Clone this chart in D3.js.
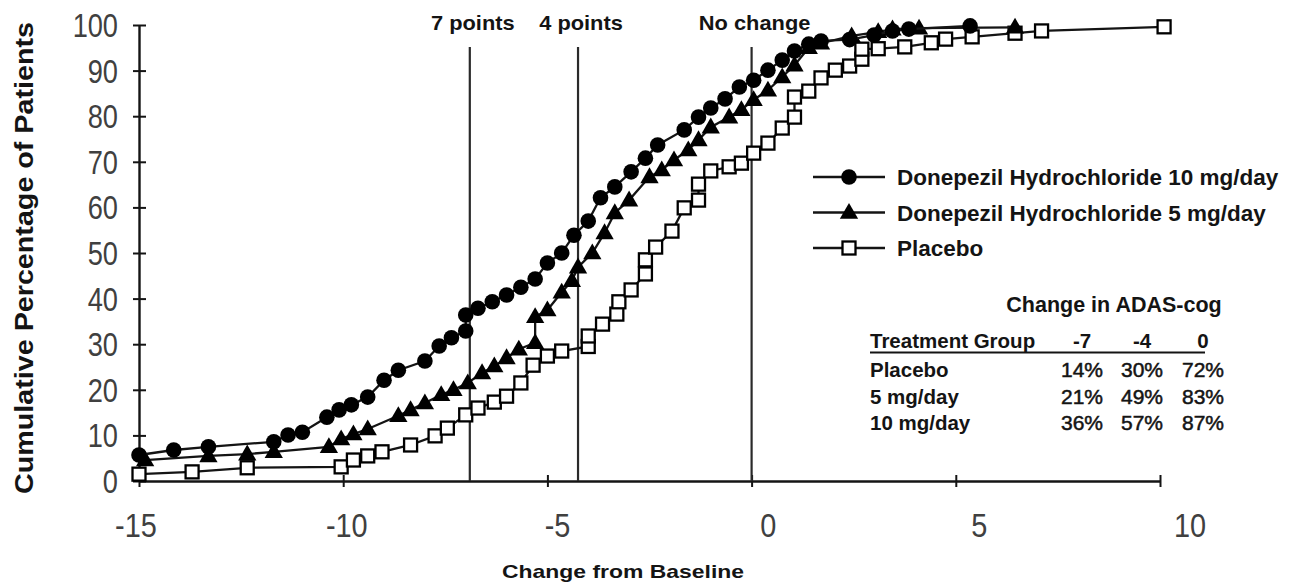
<!DOCTYPE html>
<html>
<head>
<meta charset="utf-8">
<script src="https://cdn.jsdelivr.net/npm/d3@7"></script>
<style>
body { margin: 0; background: #fff; }
svg text { font-family: "Liberation Sans", Arial, Helvetica, sans-serif; }
</style>
</head>
<body>
<svg id="chart" width="1303" height="588"></svg>
<script>
// cumulative % of patients by change from baseline
var dose10 = [
    [-15, 5.7], [-14.15, 6.8], [-13.3, 7.5], [-11.7, 8.6], [-11.35, 10.1], [-11.0, 10.7],
    [-10.4, 14.0], [-10.1, 15.6], [-9.8, 16.7], [-9.4, 18.4], [-9.0, 22.1], [-8.65, 24.3],
    [-8.0, 26.3], [-7.65, 29.6], [-7.35, 31.4], [-7.0, 32.9], [-7.0, 36.4], [-6.7, 37.9],
    [-6.35, 39.3], [-6.0, 40.8], [-5.65, 42.5], [-5.3, 44.3], [-5.0, 47.8], [-4.65, 50.0],
    [-4.35, 53.9], [-4.0, 57.0], [-3.7, 62.1], [-3.35, 64.5], [-2.95, 67.8], [-2.6, 70.8],
    [-2.3, 73.7], [-1.65, 77.0], [-1.3, 79.8], [-1.0, 81.8], [-0.65, 83.8], [-0.3, 86.4],
    [0.05, 87.9], [0.4, 90.1], [0.75, 92.3], [1.05, 94.3], [1.4, 95.8], [1.7, 96.5],
    [2.4, 96.8], [3.0, 97.8], [3.45, 98.7], [3.85, 99.1], [5.35, 99.8]
];
var dose5 = [
    [-14.85, 4.6], [-13.3, 5.5], [-12.35, 5.9], [-11.7, 6.4], [-10.35, 7.5], [-10.05, 9.2],
    [-9.75, 10.3], [-9.4, 11.4], [-8.65, 14.3], [-8.35, 15.6], [-8.0, 17.1], [-7.6, 18.9],
    [-7.3, 20.0], [-6.95, 21.5], [-6.6, 23.7], [-6.3, 25.2], [-6.0, 27.0], [-5.7, 28.9],
    [-5.3, 30.3], [-5.3, 36.0], [-5.0, 37.5], [-4.65, 41.4], [-4.4, 43.9], [-4.25, 46.9],
    [-3.9, 50.0], [-3.6, 54.4], [-3.35, 58.8], [-3.0, 61.6], [-2.5, 66.7], [-2.2, 68.2],
    [-1.9, 70.4], [-1.55, 72.6], [-1.3, 74.8], [-1.0, 77.6], [-0.55, 79.8], [-0.25, 81.4],
    [0.05, 83.6], [0.4, 85.7], [0.75, 88.6], [1.05, 91.2], [1.4, 95.0], [1.7, 96.0],
    [2.45, 97.6], [3.1, 98.5], [3.45, 99.1], [4.1, 99.3], [6.45, 99.5]
];
var placebo = [
    [-15, 1.5], [-13.7, 2.0], [-12.35, 2.9], [-10.05, 3.1], [-9.75, 4.6], [-9.4, 5.5],
    [-9.05, 6.4], [-8.35, 7.9], [-7.75, 9.9], [-7.45, 11.6], [-7.0, 14.5], [-6.7, 16.0],
    [-6.3, 17.3], [-6.0, 18.6], [-5.65, 21.5], [-5.35, 25.4], [-5.0, 27.4], [-4.65, 28.5],
    [-4.0, 29.5], [-4.0, 31.8], [-3.65, 34.4], [-3.3, 36.6], [-3.25, 39.3], [-2.95, 41.9],
    [-2.6, 45.4], [-2.6, 48.5], [-2.35, 51.3], [-1.95, 54.8], [-1.65, 59.9], [-1.3, 61.6],
    [-1.3, 65.1], [-1.0, 68.0], [-0.55, 68.9], [-0.25, 69.7], [0.05, 71.9], [0.4, 74.1],
    [0.75, 77.4], [1.05, 79.8], [1.05, 84.2], [1.4, 85.5], [1.7, 88.4], [2.05, 90.1],
    [2.4, 91.0], [2.7, 92.5], [2.7, 94.7], [3.1, 94.8], [3.75, 95.2], [4.4, 96.1],
    [4.75, 96.9], [5.4, 97.4], [6.45, 98.2], [7.1, 98.7], [10.1, 99.6]
];

var seriesNames = ['Donepezil Hydrochloride 10 mg/day', 'Donepezil Hydrochloride 5 mg/day', 'Placebo'];
var seriesShapes = ['circle', 'triangle', 'square'];

var xTicks = [-15, -10, -5, 0, 5, 10];
var yTicks = [0, 10, 20, 30, 40, 50, 60, 70, 80, 90, 100];

var refLines = [-6.9, -4.25, 0];
var refLabels = ['7 points', '4 points', 'No change'];

var tableTitle = 'Change in ADAS-cog';
var tableHeader = ['Treatment Group', '-7', '-4', '0'];
var tableGroups = ['Placebo', '5 mg/day', '10 mg/day'];
var tableValues = [
    ['14%', '30%', '72%'],
    ['21%', '49%', '83%'],
    ['36%', '57%', '87%']
];

var svg = d3.select('#chart');

var x = d3.scaleLinear().domain([-15, 10]).range([139, 1160]);
var y = d3.scaleLinear().domain([0, 100]).range([481, 25]);
// the tick labels in the figure sit on a slightly wider spacing than the ticks
var xLabel = d3.scaleLinear().domain([-15, 10]).range([136, 1190]);

var ink = '#141414';
var tickInk = '#404040';

// axes
var xAxis = svg.append('g')
    .attr('transform', 'translate(0,' + y(0) + ')')
    .call(d3.axisBottom(x).tickValues(xTicks).tickSizeOuter(0).tickFormat(''));
xAxis.select('.domain').attr('stroke', ink).attr('stroke-width', 2.4);
xAxis.selectAll('.tick line').attr('y1', -6).attr('y2', 6).attr('stroke', ink).attr('stroke-width', 2);

var yAxis = svg.append('g')
    .attr('transform', 'translate(' + x(-15) + ',0)')
    .call(d3.axisLeft(y).tickValues(yTicks).tickSizeOuter(0).tickFormat(''));
yAxis.select('.domain').attr('stroke', ink).attr('stroke-width', 2.4);
yAxis.selectAll('.tick line').attr('x1', -6).attr('x2', 7).attr('stroke', ink).attr('stroke-width', 2);

svg.append('g').selectAll('text')
    .data(yTicks)
    .enter().append('text')
        .attr('transform', d => 'translate(118,' + (y(d) + 12) + ') scale(0.8,1)')
        .attr('text-anchor', 'end')
        .style('font-size', '34px')
        .attr('fill', tickInk)
        .text(d => d);

svg.append('g').selectAll('text')
    .data(xTicks)
    .enter().append('text')
        .attr('transform', d => 'translate(' + xLabel(d) + ',537) scale(0.85,1)')
        .attr('text-anchor', 'middle')
        .style('font-size', '34px')
        .attr('fill', tickInk)
        .text(d => d);

svg.append('text')
    .attr('transform', 'translate(33,258) rotate(-90)')
    .attr('text-anchor', 'middle')
    .attr('textLength', 472)
    .attr('lengthAdjust', 'spacingAndGlyphs')
    .style('font-size', '25px')
    .style('font-weight', 'bold')
    .attr('fill', ink)
    .text('Cumulative Percentage of Patients');

svg.append('text')
    .attr('x', 623)
    .attr('y', 578)
    .attr('text-anchor', 'middle')
    .attr('textLength', 242)
    .attr('lengthAdjust', 'spacingAndGlyphs')
    .style('font-size', '19px')
    .style('font-weight', 'bold')
    .attr('fill', ink)
    .text('Change from Baseline');

// reference lines
var refs = svg.append('g');
refs.selectAll('line')
    .data(refLines)
    .enter().append('line')
        .attr('x1', d => x(d))
        .attr('x2', d => x(d))
        .attr('y1', 47)
        .attr('y2', y(0))
        .attr('stroke', '#2a2a2a')
        .attr('stroke-width', 2.2);
refs.selectAll('text')
    .data(refLines)
    .enter().append('text')
        .attr('transform', d => 'translate(' + (x(d) + 3) + ',30) scale(1.12,1)')
        .attr('text-anchor', 'middle')
        .style('font-size', '19.5px')
        .style('font-weight', 'bold')
        .attr('fill', ink)
        .text((d, i) => refLabels[i]);

// markers
function drawMarker(sel, shape) {
    if (shape === 'circle') {
        sel.append('circle').attr('r', 7.8).attr('fill', '#000');
    } else if (shape === 'triangle') {
        sel.append('path')
            .attr('d', d3.symbol(d3.symbolTriangle, 145)())
            .attr('transform', 'translate(0,1)')
            .attr('fill', '#000');
    } else {
        sel.append('rect')
            .attr('x', -6.5).attr('y', -6.5)
            .attr('width', 13).attr('height', 13)
            .attr('fill', '#fff')
            .attr('stroke', '#000')
            .attr('stroke-width', 2.3);
    }
}

var line = d3.line()
    .x(d => x(d[0]))
    .y(d => y(d[1]));

var allSeries = [dose10, dose5, placebo];

// draw placebo first so the filled markers sit on top
[2, 1, 0].forEach(i => {
    var g = svg.append('g');
    g.append('path')
        .datum(allSeries[i])
        .attr('d', line)
        .attr('fill', 'none')
        .attr('stroke', ink)
        .attr('stroke-width', 2.3);
    var pts = g.selectAll('.pt')
        .data(allSeries[i])
        .enter().append('g')
            .classed('pt', true)
            .attr('transform', d => 'translate(' + x(d[0]) + ',' + y(d[1]) + ')');
    drawMarker(pts, seriesShapes[i]);
});

// legend
var legend = svg.append('g');
seriesNames.forEach((name, i) => {
    var row = legend.append('g').attr('transform', 'translate(849,' + (177 + i * 35.5) + ')');
    row.append('line')
        .attr('x1', -36).attr('x2', 36)
        .attr('stroke', ink).attr('stroke-width', 2.4);
    drawMarker(row, seriesShapes[i]);
    row.append('text')
        .attr('x', 48)
        .attr('y', 8)
        .style('font-size', '22.5px')
        .style('font-weight', 'bold')
        .attr('fill', ink)
        .text(name);
});

// summary table
var colX = [1082, 1142, 1203];
var table = svg.append('g').attr('fill', ink);
table.append('text')
    .attr('x', 1114).attr('y', 312)
    .attr('text-anchor', 'middle')
    .style('font-size', '21.5px')
    .style('font-weight', 'bold')
    .text(tableTitle);
table.append('text')
    .attr('x', 870).attr('y', 348)
    .style('font-size', '20.5px')
    .style('font-weight', 'bold')
    .text(tableHeader[0]);
table.selectAll('.col')
    .data(tableHeader.slice(1))
    .enter().append('text')
        .attr('x', (d, i) => colX[i])
        .attr('y', 348)
        .attr('text-anchor', 'middle')
        .style('font-size', '20.5px')
        .style('font-weight', 'bold')
        .text(d => d);
table.append('line')
    .attr('x1', 870).attr('x2', 1205)
    .attr('y1', 352.5).attr('y2', 352.5)
    .attr('stroke', ink).attr('stroke-width', 2);
tableGroups.forEach((grp, r) => {
    var yy = 377 + r * 26.5;
    table.append('text')
        .attr('x', 870).attr('y', yy)
        .style('font-size', '20.5px')
        .style('font-weight', 'bold')
        .text(grp);
    tableValues[r].forEach((v, c) => {
        table.append('text')
            .attr('x', colX[c]).attr('y', yy)
            .attr('text-anchor', 'middle')
            .style('font-size', '21px')
            .attr('stroke', ink)
            .attr('stroke-width', 0.5)
            .text(v);
    });
});
</script>
</body>
</html>
